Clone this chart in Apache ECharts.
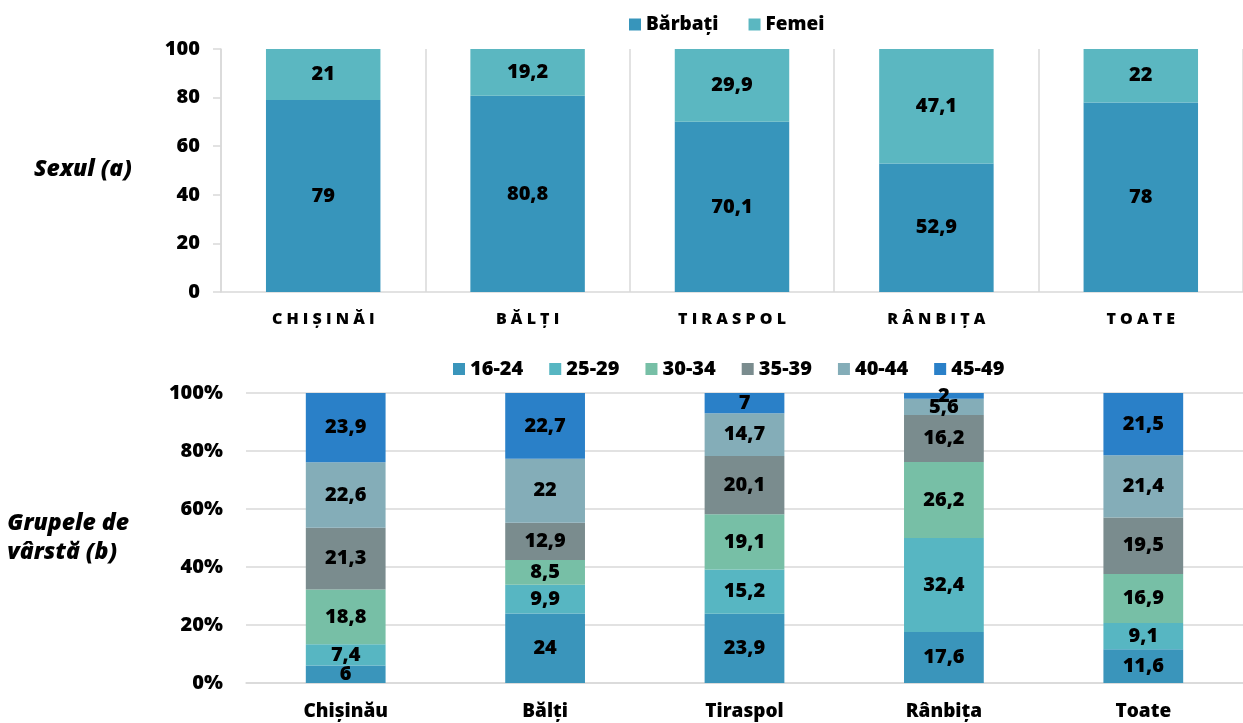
<!DOCTYPE html>
<html>
<head>
<meta charset="utf-8">
<script src="https://cdn.jsdelivr.net/npm/echarts@6/dist/echarts.min.js"></script>
<style>
  html, body { margin: 0; padding: 0; background: #fff; }
  #chart { width: 1243px; height: 723px; }
</style>
</head>
<body>
<div id="chart"></div>
<script>
// date grafic (a) - sexul
var orase = ['CHIȘINĂI', 'BĂLȚI', 'TIRASPOL', 'RÂNBIȚA', 'TOATE']
var barbati = [79, 80.8, 70.1, 52.9, 78]
var femei = [21, 19.2, 29.9, 47.1, 22]

// date grafic (b) - grupele de varsta
var orase2 = ['Chișinău', 'Bălți', 'Tiraspol', 'Rânbița', 'Toate']
var grupe = ['16-24', '25-29', '30-34', '35-39', '40-44', '45-49']
var g16_24 = [6, 24, 23.9, 17.6, 11.6]
var g25_29 = [7.4, 9.9, 15.2, 32.4, 9.1]
var g30_34 = [18.8, 8.5, 19.1, 26.2, 16.9]
var g35_39 = [21.3, 12.9, 20.1, 16.2, 19.5]
var g40_44 = [22.6, 22, 14.7, 5.6, 21.4]
var g45_49 = [23.9, 22.7, 7, 2, 21.5]
var ticksA = [0, 20, 40, 60, 80, 100]

var culoriA = ['#3795bb', '#5bb7c1']
var culoriB = ['#3a95bb', '#57b6c2', '#77bfa6', '#7a8c8e', '#84adb8', '#2a80c8']
var font = '"Open Sans", sans-serif'
var bold = 800
var grid = '#d9d9d9'

var labelOpt = {
  show: true,
  position: 'inside',
  color: '#000',
  fontFamily: font,
  fontWeight: bold,
  fontSize: 20,
  formatter: function(p) { return String(p.value).replace('.', ',') }
}

var seriesB = [g16_24, g25_29, g30_34, g35_39, g40_44, g45_49].map(function(d, i) {
  return {
    name: grupe[i],
    type: 'bar',
    stack: 'b',
    xAxisIndex: 1,
    yAxisIndex: 1,
    barWidth: '40%',
    itemStyle: { color: culoriB[i] },
    label: labelOpt,
    data: d
  }
})

var chart = echarts.init(document.getElementById('chart'))
chart.setOption({
  animation: false,
  textStyle: { fontFamily: font },
  legend: [
    {
      data: ['Bărbați', 'Femei'],
      left: 624,
      top: 10,
      icon: 'rect',
      itemWidth: 12,
      itemHeight: 12,
      itemGap: 30,
      itemStyle: { borderWidth: 0 },
      textStyle: { fontFamily: font, fontWeight: bold, fontSize: 19, color: '#000' }
    },
    {
      data: grupe,
      left: 448,
      top: 354,
      icon: 'rect',
      itemWidth: 12,
      itemHeight: 12,
      itemGap: 26,
      itemStyle: { borderWidth: 0 },
      textStyle: { fontFamily: font, fontWeight: bold, fontSize: 20, color: '#000' }
    }
  ],
  grid: [
    { left: 221, top: 49, width: 1025, height: 243 },
    { left: 246, top: 393, width: 1010, height: 290 }
  ],
  xAxis: [
    {
      type: 'category',
      gridIndex: 0,
      data: orase,
      axisLine: { lineStyle: { color: grid, width: 1.5 } },
      axisTick: { show: false },
      splitLine: { show: true, interval: 0, lineStyle: { color: grid, width: 1.5 } },
      axisLabel: {
        margin: 19,
        color: '#000',
        fontFamily: font,
        fontWeight: bold,
        fontSize: 16,
        formatter: function(v) { return v.split('').join(' ') }
      }
    },
    {
      type: 'category',
      gridIndex: 1,
      data: orase2,
      axisLine: { lineStyle: { color: grid, width: 1.5 } },
      axisTick: { show: false },
      axisLabel: {
        margin: 19,
        color: '#000',
        fontFamily: font,
        fontWeight: bold,
        fontSize: 19
      }
    }
  ],
  yAxis: [
    {
      type: 'value',
      gridIndex: 0,
      min: ticksA[0],
      max: ticksA[ticksA.length - 1],
      interval: 20,
      axisLine: { show: true, lineStyle: { color: grid, width: 1.5 } },
      axisTick: { show: true, length: 8, lineStyle: { color: grid, width: 1.5 } },
      splitLine: { show: false },
      axisLabel: { margin: 21, color: '#000', fontFamily: font, fontWeight: bold, fontSize: 20 }
    },
    {
      type: 'value',
      gridIndex: 1,
      min: 0,
      max: 100,
      interval: 20,
      axisLine: { show: false },
      axisTick: { show: false },
      splitLine: { show: true, lineStyle: { color: grid, width: 1.5 } },
      axisLabel: {
        margin: 23,
        color: '#000',
        fontFamily: font,
        fontWeight: bold,
        fontSize: 20,
        formatter: '{value}%'
      }
    }
  ],
  graphic: [
    {
      type: 'text',
      left: 34,
      top: 158,
      style: { text: 'Sexul (a)', fontFamily: font, fontStyle: 'italic', fontWeight: bold, fontSize: 23, fill: '#000' }
    },
    {
      type: 'text',
      right: 1243 - 129,
      top: 509,
      style: {
        text: 'Grupele de\nvârstă (b)',
        align: 'right',
        lineHeight: 29,
        fontFamily: font,
        fontStyle: 'italic',
        fontWeight: bold,
        fontSize: 23,
        fill: '#000'
      }
    }
  ],
  series: [
    {
      name: 'Bărbați',
      type: 'bar',
      stack: 'a',
      barWidth: '56%',
      itemStyle: { color: culoriA[0] },
      label: labelOpt,
      data: barbati
    },
    {
      name: 'Femei',
      type: 'bar',
      stack: 'a',
      barWidth: '56%',
      itemStyle: { color: culoriA[1] },
      label: labelOpt,
      data: femei
    }
  ].concat(seriesB)
})
</script>
</body>
</html>
